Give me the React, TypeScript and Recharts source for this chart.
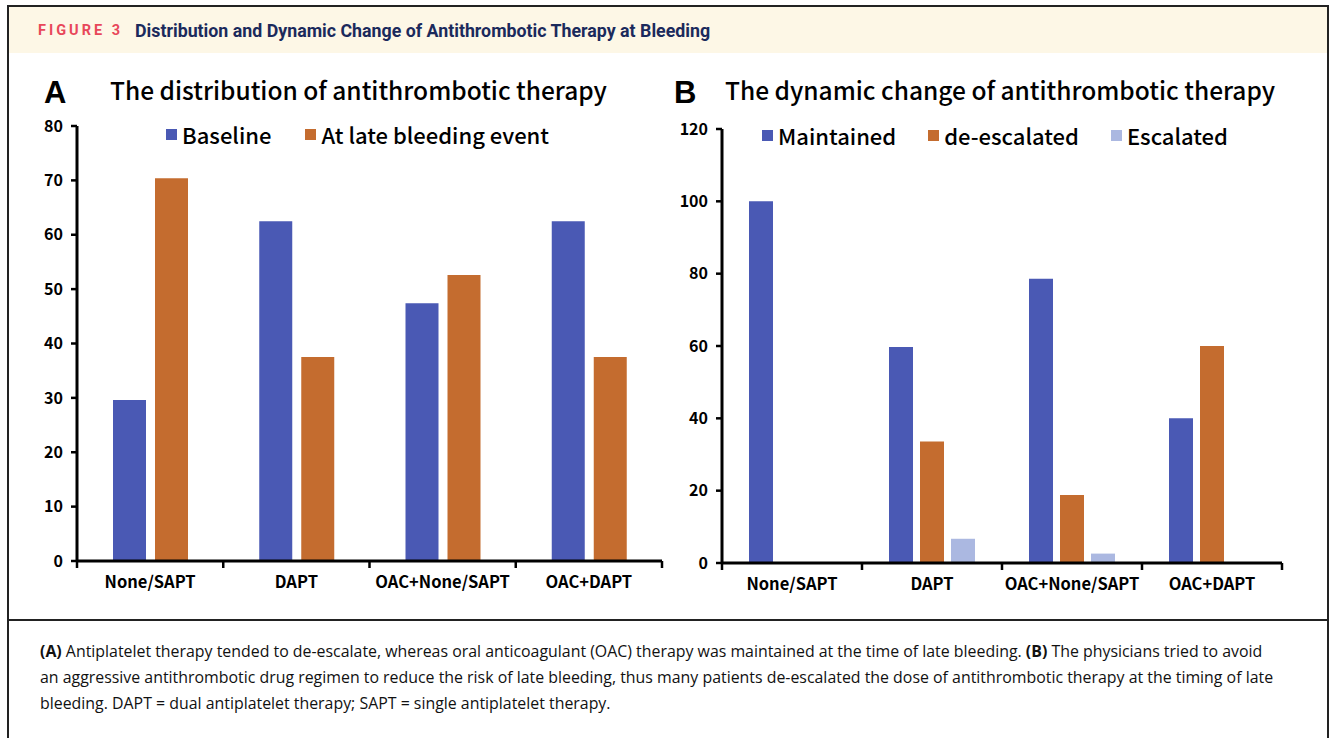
import React from "react";
import { BarChart, Bar, XAxis, YAxis } from "recharts";

// categories and values
const categories = ["None/SAPT", "DAPT", "OAC+None/SAPT", "OAC+DAPT"];
const baseline = [29.6, 62.5, 47.4, 62.5];
const atLateBleeding = [70.4, 37.5, 52.6, 37.5];
const maintained = [100, 59.7, 78.6, 40];
const deEscalated = [0, 33.6, 18.8, 60];
const escalated = [0, 6.7, 2.6, 0];
const ticksA = [0, 10, 20, 30, 40, 50, 60, 70, 80];
const ticksB = [0, 20, 40, 60, 80, 100, 120];

const BLUE = "#4a59b4";
const ORANGE = "#c46c2f";
const LIGHT = "#abb8e1";
const CHART_FONT = "'Noto Sans CJK JP', 'Noto Sans', sans-serif";

const dataA = categories.map((c, i) => ({
  name: c,
  baseline: baseline[i],
  late: atLateBleeding[i],
}));
const dataB = categories.map((c, i) => ({
  name: c,
  maintained: maintained[i],
  deEscalated: deEscalated[i],
  escalated: escalated[i],
}));

const legendA = [
  { label: "Baseline", color: BLUE },
  { label: "At late bleeding event", color: ORANGE },
];
const legendB = [
  { label: "Maintained", color: BLUE },
  { label: "de-escalated", color: ORANGE },
  { label: "Escalated", color: LIGHT },
];

// x tick: label at band centre, tick marks at the band edges
const makeCatTick = (band: number) => (props: any) => {
  const { x, y, payload, index } = props;
  return (
    <g>
      {index === 0 && (
        <line x1={x - band / 2} x2={x - band / 2} y1={y} y2={y + 7} stroke="#000" strokeWidth={2.5} />
      )}
      <line x1={x + band / 2} x2={x + band / 2} y1={y} y2={y + 7} stroke="#000" strokeWidth={2.5} />
      <text
        x={x}
        y={y + 27}
        textAnchor="middle"
        fill="#000"
        fontSize={16.5}
        fontWeight={700}
        fontFamily={CHART_FONT}
      >
        {payload.value}
      </text>
    </g>
  );
};

function Legend({ items, left, top, gap }: { items: { label: string; color: string }[]; left: number; top: number; gap: number }) {
  return (
    <div
      style={{
        position: "absolute",
        left,
        top,
        display: "flex",
        alignItems: "center",
        gap,
        fontFamily: CHART_FONT,
        fontSize: 22,
        fontWeight: 500,
        lineHeight: "30px",
        whiteSpace: "nowrap",
      }}
    >
      {items.map((it) => (
        <div key={it.label} style={{ display: "flex", alignItems: "center" }}>
          <span style={{ width: 11, height: 11, background: it.color, marginRight: 5, display: "inline-block" }} />
          <span>{it.label}</span>
        </div>
      ))}
    </div>
  );
}

const panelTitle: React.CSSProperties = {
  position: "absolute",
  fontFamily: CHART_FONT,
  fontSize: 24.5,
  fontWeight: 500,
  lineHeight: "34px",
  whiteSpace: "nowrap",
  color: "#000",
};
const panelLetter: React.CSSProperties = {
  position: "absolute",
  fontFamily: "'Liberation Sans', Arial, sans-serif",
  fontSize: 31,
  fontWeight: 700,
  lineHeight: "34px",
  color: "#000",
};

export default function App() {
  const axisLine = { stroke: "#000", strokeWidth: 3 };
  const yTick = { fill: "#000", fontSize: 16, fontWeight: 700, fontFamily: CHART_FONT };
  return (
    <div
      style={{
        position: "absolute",
        left: 0,
        top: 0,
        width: 1336,
        height: 738,
        background: "#fff",
        overflow: "hidden",
      }}
    >
      {/* frame */}
      <div
        style={{
          position: "absolute",
          left: 7,
          top: 5,
          width: 1322,
          height: 760,
          border: "2px solid #222",
          boxSizing: "border-box",
        }}
      />
      {/* header band */}
      <div
        style={{
          position: "absolute",
          left: 9,
          top: 7,
          width: 1318,
          height: 46,
          background: "#fdf7e6",
          display: "flex",
          alignItems: "center",
          fontFamily: "Roboto, sans-serif",
          whiteSpace: "nowrap",
        }}
      >
        <span style={{ marginLeft: 29, color: "#e8475a", fontWeight: 700, fontSize: 14.5, letterSpacing: 3 }}>FIGURE 3</span>
        <span style={{ marginLeft: 12, color: "#1b2a5c", fontWeight: 700, fontSize: 17.8 }}>
          Distribution and Dynamic Change of Antithrombotic Therapy at Bleeding
        </span>
      </div>

      {/* separator */}
      <div style={{ position: "absolute", left: 7, top: 619, width: 1322, height: 2, background: "#222" }} />

      {/* panel A */}
      <div style={{ ...panelLetter, left: 44, top: 76 }}>A</div>
      <div style={{ ...panelTitle, left: 110, top: 73 }}>The distribution of antithrombotic therapy</div>
      <div style={{ position: "absolute", left: 0, top: 100 }}>
        <BarChart
          width={680}
          height={520}
          data={dataA}
          margin={{ top: 26, right: 18, bottom: 29, left: 27 }}
          barSize={33}
          barGap={9}
        >
          <XAxis
            dataKey="name"
            axisLine={axisLine}
            tickLine={false}
            tickSize={0}
            tickMargin={0}
            height={30}
            interval={0}
            tick={makeCatTick(585 / 4)}
          />
          <YAxis
            domain={[0, 80]}
            ticks={ticksA}
            width={50}
            axisLine={axisLine}
            tickLine={{ stroke: "#000", strokeWidth: 2.5 }}
            tickSize={6}
            tickMargin={8}
            tick={yTick}
          />
          <Bar dataKey="baseline" fill={BLUE} isAnimationActive={false} />
          <Bar dataKey="late" fill={ORANGE} isAnimationActive={false} />
        </BarChart>
      </div>
      <Legend items={legendA} left={166} top={119} gap={34} />

      {/* panel B */}
      <div style={{ ...panelLetter, left: 674, top: 76 }}>B</div>
      <div style={{ ...panelTitle, left: 725, top: 73 }}>The dynamic change of antithrombotic therapy</div>
      <div style={{ position: "absolute", left: 680, top: 100 }}>
        <BarChart
          width={656}
          height={520}
          data={dataB}
          margin={{ top: 29, right: 54, bottom: 27, left: 6 }}
          barSize={24}
          barGap={7}
        >
          <XAxis
            dataKey="name"
            axisLine={axisLine}
            tickLine={false}
            tickSize={0}
            tickMargin={0}
            height={30}
            interval={0}
            tick={makeCatTick(560 / 4)}
          />
          <YAxis
            domain={[0, 120]}
            ticks={ticksB}
            width={36}
            axisLine={axisLine}
            tickLine={{ stroke: "#000", strokeWidth: 2.5 }}
            tickSize={6}
            tickMargin={8}
            tick={yTick}
          />
          <Bar dataKey="maintained" fill={BLUE} isAnimationActive={false} />
          <Bar dataKey="deEscalated" fill={ORANGE} isAnimationActive={false} />
          <Bar dataKey="escalated" fill={LIGHT} isAnimationActive={false} />
        </BarChart>
      </div>
      <Legend items={legendB} left={762} top={120} gap={32} />

      {/* caption */}
      <div
        style={{
          position: "absolute",
          left: 40,
          top: 638,
          fontFamily: "'Open Sans', sans-serif",
          fontSize: 15.9,
          lineHeight: "26px",
          color: "#111",
          whiteSpace: "nowrap",
        }}
      >
        <div>
          <b>(A)</b> Antiplatelet therapy tended to de-escalate, whereas oral anticoagulant (OAC) therapy was maintained at the time of late bleeding. <b>(B)</b> The physicians tried to avoid
        </div>
        <div>
          an aggressive antithrombotic drug regimen to reduce the risk of late bleeding, thus many patients de-escalated the dose of antithrombotic therapy at the timing of late
        </div>
        <div>bleeding. DAPT = dual antiplatelet therapy; SAPT = single antiplatelet therapy.</div>
      </div>
    </div>
  );
}
